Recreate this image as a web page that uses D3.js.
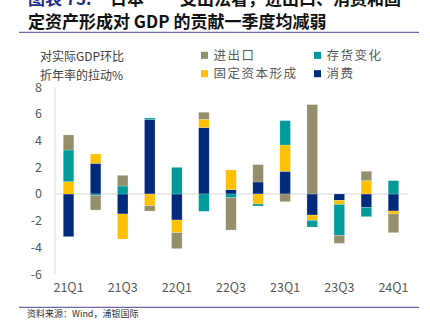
<!DOCTYPE html>
<html>
<head>
<meta charset="utf-8">
<script src="https://cdn.jsdelivr.net/npm/d3@7"></script>
<style>
  body { margin: 0; background: #fff; }
  #chart { width: 430px; height: 328px; }
  text { font-family: "Noto Sans CJK SC", "Open Sans", sans-serif; }
</style>
</head>
<body>
<div id="chart"></div>
<script>
// data
const quarters = ["21Q1","21Q2","21Q3","21Q4","22Q1","22Q2","22Q3","22Q4","23Q1","23Q2","23Q3","23Q4","24Q1"];
const consumption = [-3.2, 2.3, -1.5, 5.58, -1.95, 4.98, 0.33, 0.9, 1.7, -1.58, -0.48, -1.0, -1.28];
const fixedCapital = [0.92, 0.7, -1.88, -0.88, -0.95, 0.62, 1.47, -0.75, 1.97, -0.4, -0.3, 1.0, -0.22];
const inventory = [2.38, -0.1, 0.6, 0.12, 2.0, -1.3, -0.28, -0.15, 1.83, -0.5, -2.32, -0.7, 1.0];
const netExports = [1.13, -1.1, 0.8, -0.4, -1.2, 0.53, -2.42, 1.3, -0.58, 6.7, -0.6, 0.7, -1.4];
const yTicks = [-6, -4, -2, 0, 2, 4, 6, 8];
const xTickLabels = ["21Q1","21Q3","22Q1","22Q3","23Q1","23Q3","24Q1"];

const seriesNames = {consumption: "消费", fixedCapital: "固定资本形成", inventory: "存货变化", netExports: "进出口"};
const keys = ["consumption", "fixedCapital", "inventory", "netExports"];
const colors = {consumption: "#002a7b", fixedCapital: "#ffc000", inventory: "#009a9a", netExports: "#938f6a"};

const table = quarters.map(function(q, i) {
    return {q: q, consumption: consumption[i], fixedCapital: fixedCapital[i], inventory: inventory[i], netExports: netExports[i]};
});

const width = 430, height = 328;
const margin = {top: 87.3, left: 55, right: 23, bottom: 54};

const svg = d3.select("#chart").append("svg")
    .attr("width", width)
    .attr("height", height);

/* title (first line is cut by the top edge, as in the source) */
const title = svg.append("g");
const t1 = title.append("text").attr("y", 5).attr("font-size", 17).attr("font-weight", "bold");
t1.append("tspan").attr("x", 28).attr("fill", "#1f2f8a").text("图表 73:");
t1.append("tspan").attr("x", 110).attr("fill", "#111").text("日本");
t1.append("tspan").attr("x", 180).attr("fill", "#111").text("支出法看，进出口、消费和固");
title.append("text").attr("x", 28).attr("y", 27.5).attr("font-size", 17).attr("font-weight", "bold")
    .attr("fill", "#111").text("定资产形成对 GDP 的贡献一季度均减弱");
svg.append("line").attr("x1", 19).attr("x2", 419).attr("y1", 32.3).attr("y2", 32.3)
    .attr("stroke", "#6a6aa8").attr("stroke-width", 1.3);

/* scales */
const xScale = d3.scaleBand()
    .domain(quarters)
    .range([margin.left, width - margin.right])
    .paddingInner(0.61)
    .paddingOuter(0.305);

const yScale = d3.scaleLinear()
    .domain([-6, 8])
    .range([274, margin.top]);

/* axes */
svg.append("line")
    .attr("x1", margin.left).attr("x2", margin.left)
    .attr("y1", yScale(8)).attr("y2", yScale(-6))
    .attr("stroke", "#d9d9d9").attr("stroke-width", 1);

svg.append("line")
    .attr("x1", margin.left).attr("x2", width - margin.right)
    .attr("y1", yScale(0)).attr("y2", yScale(0))
    .attr("stroke", "#d9d9d9").attr("stroke-width", 1.2);

svg.selectAll(".ytick")
    .data(yTicks)
    .enter()
    .append("text")
        .attr("class", "ytick")
        .attr("x", 42)
        .attr("y", function(d) { return yScale(d); })
        .attr("dy", "0.36em")
        .attr("text-anchor", "end")
        .attr("font-size", 12.5)
        .attr("font-family", "Open Sans, sans-serif")
        .attr("fill", "#595959")
        .text(function(d) { return d; });

svg.selectAll(".xtick")
    .data(xTickLabels)
    .enter()
    .append("text")
        .attr("class", "xtick")
        .attr("x", function(d) { return xScale(d) + xScale.bandwidth() / 2; })
        .attr("y", 292)
        .attr("text-anchor", "middle")
        .attr("font-size", 12.5)
        .attr("font-family", "Open Sans, sans-serif")
        .attr("fill", "#595959")
        .text(function(d) { return d; });

/* y axis title */
svg.append("text").attr("x", 40).attr("y", 61).attr("font-size", 12).attr("fill", "#404040").text("对实际GDP环比");
svg.append("text").attr("x", 40).attr("y", 79.5).attr("font-size", 12).attr("fill", "#404040").text("折年率的拉动%");

/* stacked bars */
const stacked = d3.stack()
    .keys(keys)
    .offset(d3.stackOffsetDiverging)(table);

svg.append("g").selectAll("g")
    .data(stacked)
    .enter()
    .append("g")
        .attr("fill", function(d) { return colors[d.key]; })
    .selectAll("rect")
    .data(function(d) { return d; })
    .enter()
    .append("rect")
        .attr("x", function(d) { return xScale(d.data.q); })
        .attr("width", xScale.bandwidth())
        .attr("y", function(d) { return yScale(Math.max(d[0], d[1])); })
        .attr("height", function(d) { return Math.abs(yScale(d[0]) - yScale(d[1])); })
        .attr("stroke", "#ffffff")
        .attr("stroke-opacity", 0.35)
        .attr("stroke-width", 0.6);

/* legend */
const legendItems = [
    {key: "netExports", x: 201, y: 55.3},
    {key: "inventory", x: 314, y: 55.3},
    {key: "fixedCapital", x: 201, y: 73.7},
    {key: "consumption", x: 314, y: 73.7}
];
const legend = svg.append("g").selectAll("g")
    .data(legendItems)
    .enter()
    .append("g")
        .attr("transform", function(d) { return `translate(${d.x},${d.y})`; });
legend.append("rect")
    .attr("x", 0).attr("y", -3.5)
    .attr("width", 7).attr("height", 7)
    .attr("fill", function(d) { return colors[d.key]; });
legend.append("text")
    .attr("x", 12.5).attr("dy", "0.36em")
    .attr("font-size", 12.5)
    .attr("letter-spacing", 1.5)
    .attr("fill", "#595959")
    .text(function(d) { return seriesNames[d.key]; });

/* footer */
svg.append("line").attr("x1", 19).attr("x2", 419).attr("y1", 307.3).attr("y2", 307.3)
    .attr("stroke", "#6a6aa8").attr("stroke-width", 1.3);
svg.append("text").attr("x", 27).attr("y", 316.5).attr("font-size", 9).attr("fill", "#333")
    .text("资料来源：Wind，浦银国际");
</script>
</body>
</html>
